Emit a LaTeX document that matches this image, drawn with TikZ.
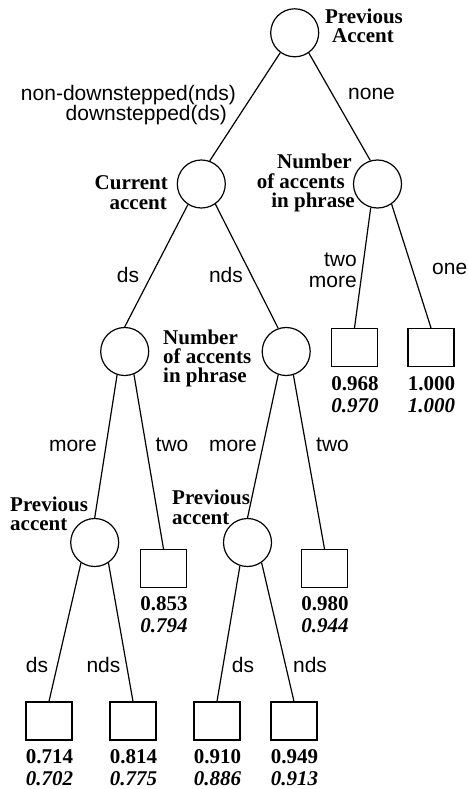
\documentclass[tikz,border=0pt]{standalone}
\usepackage{fontspec}
\setmainfont{Liberation Serif}
\setsansfont{Liberation Sans}
\usetikzlibrary{calc}
\tikzset{
  dec/.style={circle, draw, line width=1.2pt, minimum size=48pt, inner sep=0pt},
  leaf/.style={rectangle, draw, line width=1.2pt, minimum width=46pt, minimum height=38pt, inner sep=0pt},
  lbl/.style={font=\sffamily\fontsize{21}{18}\selectfont, inner sep=0pt},
  blab/.style={font=\bfseries\fontsize{21}{18.3}\selectfont, inner sep=0pt},
  blabwide/.style={font=\bfseries\fontsize{21}{19.6}\selectfont, inner sep=0pt},
  val/.style={font=\bfseries\fontsize{21}{20}\selectfont, inner sep=0pt, anchor=base},
  ival/.style={font=\bfseries\itshape\fontsize{21}{20}\selectfont, inner sep=0pt, anchor=base},
  edge/.style={line width=1.2pt}
}
\begin{document}
\begin{tikzpicture}[x=1pt,y=-1pt]
\useasboundingbox (0,0) rectangle (468,789);
% decision nodes
\node[dec] (root) at (294.7,32.8) {};
\node[dec] (cur) at (201.3,184) {};
\node[dec] (numR) at (377.5,184) {};
\node[dec] (ds) at (124.7,351.5) {};
\node[dec] (nds) at (286.2,351.5) {};
\node[dec] (prevL) at (94.7,542.5) {};
\node[dec] (prevR) at (247.5,542.5) {};
% leaves
\node[leaf] (sqA) at (354.5,347.5) {};
\node[leaf] (sqB) at (431,347.5) {};
\node[leaf] (sqC) at (163.5,568.5) {};
\node[leaf] (sqD) at (324.5,568.5) {};
\node[leaf] (sqE) at (49,721) {};
\node[leaf] (sqF) at (133,721) {};
\node[leaf] (sqG) at (217,721) {};
\node[leaf] (sqH) at (294,721) {};
% edges
\draw[edge] (root.234) -- (cur.70);
\draw[edge] (root.305) -- (numR.107);
\draw[edge] (cur.237) -- (ds.north);
\draw[edge] (cur.305) -- (nds.109);
\draw[edge] (numR.254) -- (sqA.north);
\draw[edge] (numR.305) -- (sqB.north);
\draw[edge] (ds.252) -- (prevL.north);
\draw[edge] (ds.292) -- (sqC.north);
\draw[edge] (nds.251) -- (prevR.north);
\draw[edge] (nds.287) -- (sqD.north);
\draw[edge] (prevL.236) -- (sqE.north);
\draw[edge] (prevL.304) -- (sqF.north);
\draw[edge] (prevR.252) -- (sqG.north);
\draw[edge] (prevR.305) -- (sqH.north);
% decision labels
\node[blab, anchor=base] (tRoot1) at (364,23.3) {Previous};
\node[blab, anchor=base] (tRoot2) at (363,42.7) {Accent};
\node[blab, anchor=base east] (tCur1) at (168,189.5) {Current};
\node[blab, anchor=base east] (tCur2) at (167,209.5) {accent};
\node[blab, anchor=base east] (tNumR1) at (352,168.3) {Number};
\node[blab, anchor=base east] (tNumR2) at (345,188.3) {of accents};
\node[blab, anchor=base east] (tNumR3) at (355,207.3) {in phrase};
\node[blab, anchor=base west] (tNumM1) at (163,344) {Number};
\node[blab, anchor=base west] (tNumM2) at (163,363) {of accents};
\node[blab, anchor=base west] (tNumM3) at (163,382) {in phrase};
\node[blabwide, align=left, anchor=north west] (tPrevL) at (10,496.6) {Previous\\accent};
\node[blabwide, align=left, anchor=north west] (tPrevR) at (172,489.9) {Previous\\accent};
% edge labels
\node[lbl, align=right, anchor=north east] (eA) at (236,84.7) {non-downstepped(nds)\\downstepped(ds)\hspace*{9pt}};
\node[lbl, anchor=base west] (eB) at (348,100) {none};
\node[lbl, anchor=base] (eC) at (128,282) {ds};
\node[lbl, anchor=base] (eD) at (226,282) {nds};
\node[lbl, anchor=base east] (eE1) at (357,266) {two};
\node[lbl, anchor=base east] (eE2) at (357,287) {more};
\node[lbl, anchor=base west] (eF) at (432,274) {one};
\node[lbl, anchor=base] (eG) at (73,451) {more};
\node[lbl, anchor=base] (eH) at (172,451) {two};
\node[lbl, anchor=base] (eI) at (233,451) {more};
\node[lbl, anchor=base] (eJ) at (332.5,451) {two};
\node[lbl, anchor=base] (eK) at (37,672) {ds};
\node[lbl, anchor=base] (eL) at (103.5,672) {nds};
\node[lbl, anchor=base] (eM) at (243,672) {ds};
\node[lbl, anchor=base] (eN) at (310,672) {nds};
% values
\node[val] (vA) at ($(sqA.south)+(0.5,23)$) {0.968};
\node[ival] (wA) at ($(sqA.south)+(0.5,45)$) {0.970};
\node[val] (vB) at ($(sqB.south)+(0.5,23)$) {1.000};
\node[ival] (wB) at ($(sqB.south)+(0.5,45)$) {1.000};
\node[val] (vC) at ($(sqC.south)+(0.5,22.5)$) {0.853};
\node[ival] (wC) at ($(sqC.south)+(0.5,44.5)$) {0.794};
\node[val] (vD) at ($(sqD.south)+(0.5,22.5)$) {0.980};
\node[ival] (wD) at ($(sqD.south)+(0.5,44.5)$) {0.944};
\node[val] (vE) at ($(sqE.south)+(0.5,23)$) {0.714};
\node[ival] (wE) at ($(sqE.south)+(0.5,45)$) {0.702};
\node[val] (vF) at ($(sqF.south)+(0.5,23)$) {0.814};
\node[ival] (wF) at ($(sqF.south)+(0.5,45)$) {0.775};
\node[val] (vG) at ($(sqG.south)+(0.5,23)$) {0.910};
\node[ival] (wG) at ($(sqG.south)+(0.5,45)$) {0.886};
\node[val] (vH) at ($(sqH.south)+(0.5,23)$) {0.949};
\node[ival] (wH) at ($(sqH.south)+(0.5,45)$) {0.913};
\end{tikzpicture}
\end{document}
